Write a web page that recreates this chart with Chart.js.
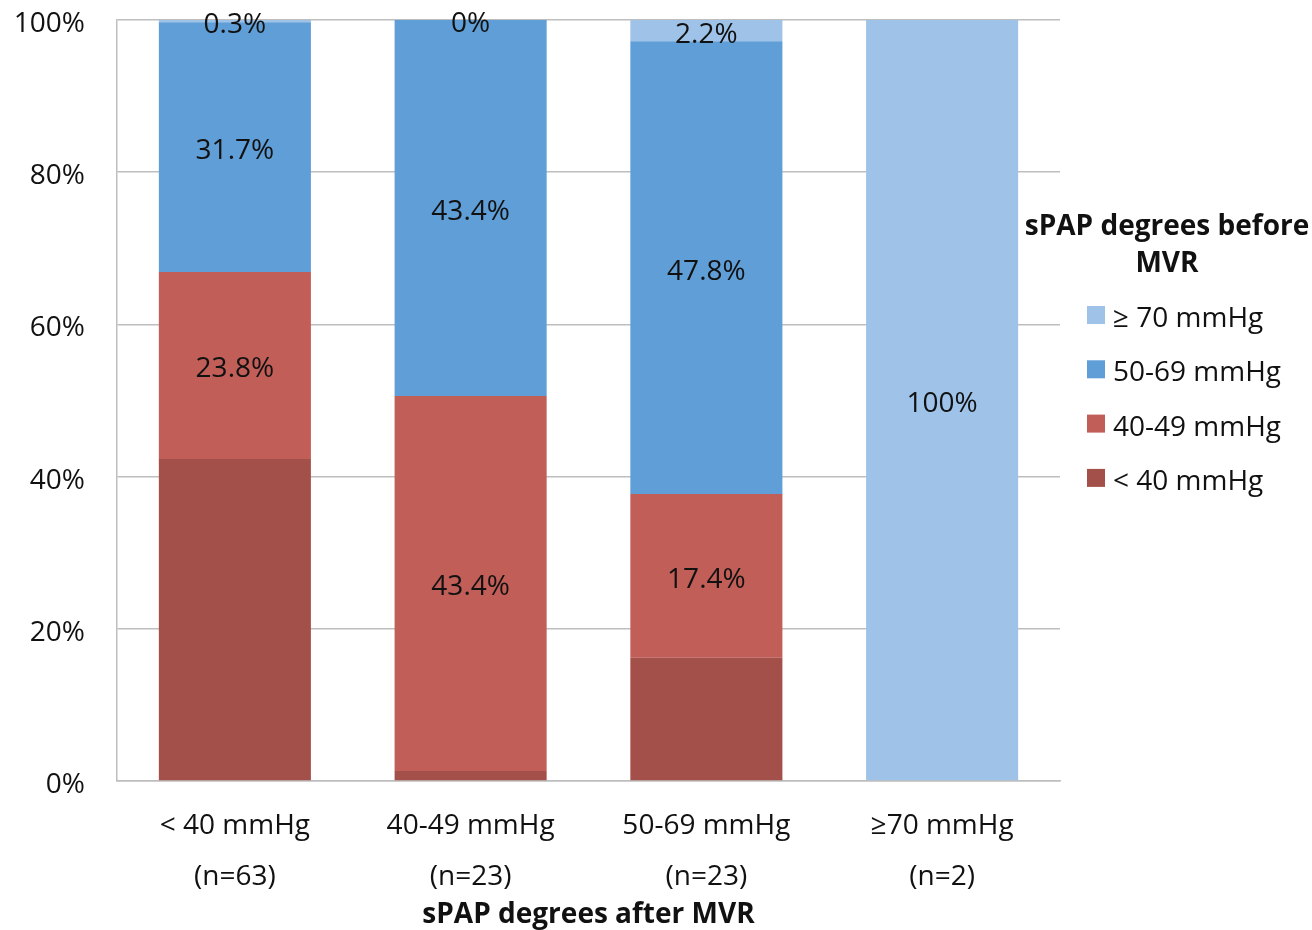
<!DOCTYPE html>
<html>
<head>
<meta charset="utf-8">
<script src="https://cdn.jsdelivr.net/npm/chart.js@4.4.1/dist/chart.umd.min.js"></script>
<style>
  html, body { margin: 0; padding: 0; background: #fff; }
  canvas { display: block; }
</style>
</head>
<body>
<canvas id="spap-chart" width="1312" height="930"></canvas>
<script>
const FONT_FAMILY = '"Open Sans", sans-serif';
const TEXT_COLOR = '#111111';
const GRID_COLOR = '#BEBEBE';

// categories on the x axis (two lines each)
const categories = [
  ['< 40 mmHg', '(n=63)'],
  ['40-49 mmHg', '(n=23)'],
  ['50-69 mmHg', '(n=23)'],
  ['≥70 mmHg', '(n=2)'],
];

// series, bottom of the stack first
const seriesNames = ['< 40 mmHg', '40-49 mmHg', '50-69 mmHg', '≥ 70 mmHg'];
const seriesColors = ['#A4504A', '#C15E58', '#5F9ED6', '#9FC3E8'];

const below40 = [42.3, 1.3, 16.2, 0];
const from40to49 = [24.6, 49.3, 21.5, 0];
const from50to69 = [32.8, 49.4, 59.5, 0];
const above70 = [0.3, 0, 2.8, 100];

// printed labels inside the segments ('' = no label)
const below40Labels = ['', '', '', ''];
const from40to49Labels = ['23.8%', '43.4%', '17.4%', ''];
const from50to69Labels = ['31.7%', '43.4%', '47.8%', ''];
const above70Labels = ['0.3%', '0%', '2.2%', '100%'];

const yTicks = [0, 20, 40, 60, 80, 100];

const xTitle = 'sPAP degrees after MVR';
const legendTitle = ['sPAP degrees before', 'MVR'];

const seriesValues = [below40, from40to49, from50to69, above70];
const seriesLabels = [below40Labels, from40to49Labels, from50to69Labels, above70Labels];

const segmentLabelsPlugin = {
  id: 'segmentLabels',
  afterDatasetsDraw(chart) {
    const ctx = chart.ctx;
    ctx.save();
    ctx.font = `28px ${FONT_FAMILY}`;
    ctx.fillStyle = TEXT_COLOR;
    ctx.textAlign = 'center';
    ctx.textBaseline = 'middle';

    chart.data.datasets.forEach((dataset, i) => {
      const meta = chart.getDatasetMeta(i);
      meta.data.forEach((bar, j) => {
        const text = dataset.segmentLabels[j];
        if (!text) return;
        const y = (bar.y + bar.base) / 2;
        ctx.fillText(text, bar.x, y + 4);
      });
    });
    ctx.restore();
  },
};

const sideLegendPlugin = {
  id: 'sideLegend',
  afterDraw(chart) {
    const ctx = chart.ctx;
    ctx.save();
    ctx.fillStyle = TEXT_COLOR;
    ctx.textBaseline = 'middle';

    ctx.font = `bold 28px ${FONT_FAMILY}`;
    ctx.textAlign = 'center';
    legendTitle.forEach((line, i) => {
      ctx.fillText(line, 1167, 227 + i * 37);
    });

    ctx.font = `28px ${FONT_FAMILY}`;
    ctx.textAlign = 'left';
    const datasets = chart.data.datasets.slice().reverse();
    datasets.forEach((dataset, i) => {
      const y = 317 + i * 54.3;
      ctx.fillStyle = dataset.backgroundColor;
      ctx.fillRect(1087, y - 11, 18, 18);
      ctx.fillStyle = TEXT_COLOR;
      ctx.fillText(dataset.label, 1113, y + 2);
    });
    ctx.restore();
  },
};

function createChartData() {
  return {
    labels: categories,
    datasets: seriesNames.map((name, i) => ({
      label: name,
      data: seriesValues[i],
      segmentLabels: seriesLabels[i],
      backgroundColor: seriesColors[i],
      borderWidth: 0,
      barPercentage: 0.645,
      categoryPercentage: 1,
    })),
  };
}

function createChartScales() {
  return {
    x: {
      stacked: true,
      grid: {
        display: false,
        drawTicks: false,
      },
      border: {
        display: true,
        color: GRID_COLOR,
        width: 1.5,
      },
      ticks: {
        color: TEXT_COLOR,
        padding: 20,
        font: { family: FONT_FAMILY, size: 28, lineHeight: 51 / 28 },
      },
      title: {
        display: true,
        text: xTitle,
        color: TEXT_COLOR,
        padding: { top: 0, bottom: 0 },
        font: { family: FONT_FAMILY, size: 28, weight: 'bold', lineHeight: 1.1 },
      },
      afterFit(scale) {
        scale.height = 149;
      },
    },
    y: {
      stacked: true,
      min: 0,
      max: 100,
      afterBuildTicks(scale) {
        scale.ticks = yTicks.map((v) => ({ value: v }));
      },
      grid: {
        color: GRID_COLOR,
        lineWidth: 1.5,
        drawTicks: false,
      },
      border: {
        display: true,
        color: GRID_COLOR,
        width: 1.5,
      },
      ticks: {
        color: TEXT_COLOR,
        padding: 32,
        labelOffset: 4,
        font: { family: FONT_FAMILY, size: 28 },
        callback: (value) => `${value}%`,
      },
      afterFit(scale) {
        scale.width = 117;
        // the tick padding should not push the plot down
        scale.paddingTop = 0;
        scale.paddingBottom = 0;
      },
    },
  };
}

function createChartOptions(scales) {
  return {
    responsive: false,
    animation: false,
    devicePixelRatio: 1,
    layout: {
      padding: { left: 0, right: 252, top: 20, bottom: 0 },
    },
    plugins: {
      legend: { display: false },
      tooltip: { enabled: false },
    },
    scales: scales,
  };
}

function generateChart() {
  const ctx = document.getElementById('spap-chart').getContext('2d');
  return new Chart(ctx, {
    type: 'bar',
    data: createChartData(),
    options: createChartOptions(createChartScales()),
    plugins: [segmentLabelsPlugin, sideLegendPlugin],
  });
}

generateChart();
</script>
</body>
</html>
